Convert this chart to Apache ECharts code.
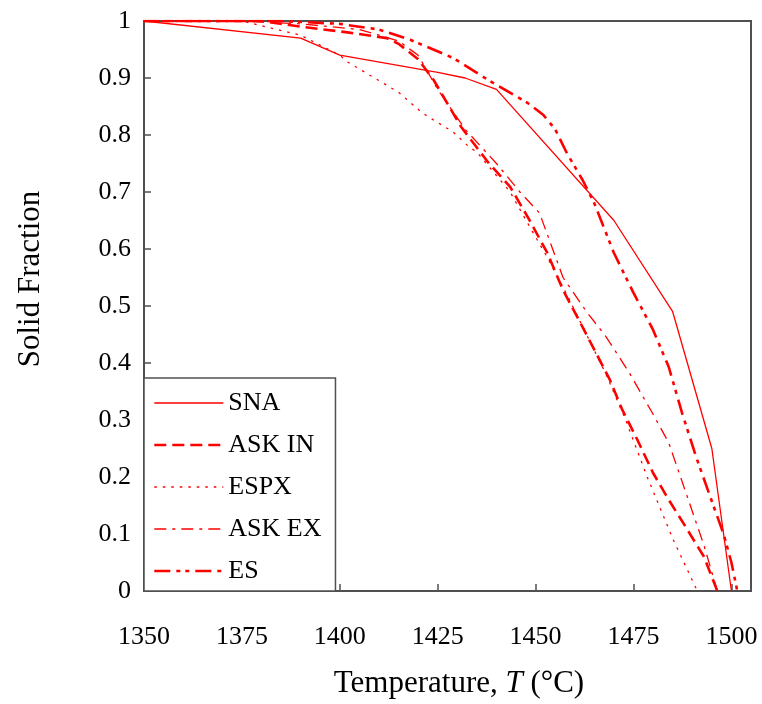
<!DOCTYPE html>
<html>
<head>
<meta charset="utf-8">
<script src="https://cdn.jsdelivr.net/npm/echarts@6/dist/echarts.min.js"></script>
<style>
html,body{margin:0;padding:0;background:#fff;}
#chart{width:762px;height:704px;}
</style>
</head>
<body>
<div id="chart"></div>
<script>
// ---- data ----
var seriesNames = ['SNA', 'ASK IN', 'ESPX', 'ASK EX', 'ES'];

var snaT = [1350, 1390, 1400, 1425, 1432, 1440, 1470, 1485, 1495, 1500];
var snaF = [1, 0.97, 0.94, 0.91, 0.90, 0.88, 0.65, 0.49, 0.25, 0];

var askInT = [1350, 1380, 1390, 1402, 1412, 1415, 1420, 1424, 1431, 1438, 1443.5, 1448, 1453, 1457, 1462, 1469, 1472, 1476, 1480, 1484, 1488, 1493, 1496.4];
var askInF = [1, 1, 0.99, 0.98, 0.97, 0.96, 0.933, 0.896, 0.814, 0.751, 0.709, 0.656, 0.593, 0.528, 0.463, 0.37, 0.32, 0.265, 0.207, 0.16, 0.116, 0.06, 0];

var espxT = [1350, 1375, 1390, 1400, 1402, 1415, 1421, 1424, 1429, 1433, 1435, 1443.5, 1448, 1453, 1458, 1463, 1468, 1473, 1478.5, 1485.2, 1491.3];
var espxF = [1, 1, 0.975, 0.94, 0.928, 0.875, 0.839, 0.826, 0.805, 0.779, 0.77, 0.70, 0.645, 0.585, 0.52, 0.45, 0.38, 0.30, 0.20, 0.089, 0];

var askExT = [1350, 1375, 1390, 1405, 1415, 1420, 1425, 1432, 1440, 1446, 1451, 1457, 1463, 1468, 1474, 1480, 1484, 1490, 1493, 1496.4];
var askExF = [1, 1, 0.995, 0.985, 0.965, 0.94, 0.88, 0.81, 0.75, 0.70, 0.663, 0.55, 0.49, 0.446, 0.382, 0.31, 0.26, 0.14, 0.08, 0];

var esT = [1350, 1385, 1400, 1410, 1418, 1429, 1438, 1448, 1452, 1455, 1458, 1462, 1465, 1470, 1475, 1480, 1484, 1487.5, 1491, 1494.6, 1498, 1500, 1501.5];
var esF = [1, 1, 0.995, 0.985, 0.967, 0.935, 0.896, 0.856, 0.835, 0.81, 0.768, 0.721, 0.68, 0.593, 0.523, 0.458, 0.393, 0.31, 0.235, 0.165, 0.10, 0.05, 0];

var xMin = 1350, xMax = 1505, xStep = 25;
var yMin = 0, yMax = 1, yStep = 0.1;

function pairs(t, f) { return t.map(function (v, i) { return [v, f[i]]; }); }

var RED = '#ff0000';
var FONT = '"Liberation Serif", "Times New Roman", serif';

var styles = [
  { width: 1.3, type: 'solid' },
  { width: 2.6, type: [12, 6] },
  { width: 1.3, type: [2.5, 6] },
  { width: 1.3, type: [12, 6, 3, 6] },
  { width: 2.6, type: [16, 6, 4, 5, 4, 6] }
];
var datasets = [pairs(snaT, snaF), pairs(askInT, askInF), pairs(espxT, espxF), pairs(askExT, askExF), pairs(esT, esF)];

var chart = echarts.init(document.getElementById('chart'), null, { renderer: 'canvas' });
var axisColor = '#505050';

chart.setOption({
  animation: false,
  backgroundColor: '#ffffff',
  grid: {
    left: 144, right: 11, top: 21, bottom: 113,
    show: true, borderColor: axisColor, borderWidth: 2, backgroundColor: 'transparent'
  },
  xAxis: {
    type: 'value', min: xMin, max: xMax, interval: xStep,
    axisLine: { show: true, lineStyle: { color: axisColor, width: 2 } },
    axisTick: { show: true, inside: true, length: 7, lineStyle: { color: axisColor, width: 1.5 } },
    splitLine: { show: false },
    axisLabel: { showMaxLabel: false, margin: 33, color: '#000', fontFamily: FONT, fontSize: 26,
      formatter: function (v) { return String(v); } }
  },
  yAxis: {
    type: 'value', min: yMin, max: yMax, interval: yStep,
    axisLine: { show: true, lineStyle: { color: axisColor, width: 2 } },
    axisTick: { show: true, inside: true, length: 7, lineStyle: { color: axisColor, width: 1.5 } },
    splitLine: { show: false },
    axisLabel: { margin: 13, color: '#000', fontFamily: FONT, fontSize: 26 }
  },
  legend: {
    orient: 'vertical',
    left: 144, top: 378,
    padding: [12, 14, 7, 9],
    itemWidth: 69, itemHeight: 14, itemGap: 16,
    backgroundColor: '#ffffff',
    borderColor: axisColor, borderWidth: 1.5,
    itemStyle: { opacity: 0 },
    textStyle: { color: '#000', fontFamily: FONT, fontSize: 26 },
    data: seriesNames.map(function (n, i) {
      return { name: n, lineStyle: { color: RED, width: styles[i].width, type: styles[i].type } };
    })
  },
  graphic: [
    { type: 'text', x: 459, y: 684,
      style: { text: '{a|Temperature, }{b|T}{a| (°C)}', align: 'center', verticalAlign: 'middle',
        rich: { a: { font: '31px ' + FONT, fill: '#000' }, b: { font: 'italic 31px ' + FONT, fill: '#000' } } } },
    { type: 'text', x: 31, y: 279, rotation: Math.PI / 2,
      style: { text: 'Solid Fraction', align: 'center', verticalAlign: 'middle', fill: '#000', font: '31px ' + FONT } }
  ],
  series: seriesNames.map(function (n, i) {
    return {
      name: n, type: 'line', data: datasets[i], symbol: 'none', smooth: false,
      lineStyle: { color: RED, width: styles[i].width, type: styles[i].type },
      itemStyle: { color: RED },
      z: 3
    };
  })
});
</script>
</body>
</html>
